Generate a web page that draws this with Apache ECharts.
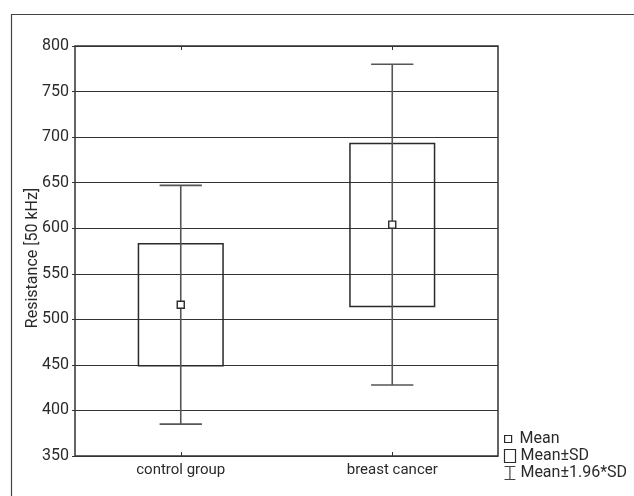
<!DOCTYPE html>
<html>
<head>
<meta charset="utf-8">
<script src="https://cdn.jsdelivr.net/npm/echarts@6/dist/echarts.min.js"></script>
<style>
  html, body { margin: 0; padding: 0; background: #fff; }
  #chart { width: 634px; height: 496px; }
</style>
</head>
<body>
<div id="chart"></div>
<script>
// values
const categories = ['control group', 'breast cancer'];
const means = [516, 604];
const sdLow = [449, 514];     // Mean - SD
const sdHigh = [583, 693];    // Mean + SD
const ciLow = [385, 428];     // Mean - 1.96*SD
const ciHigh = [647, 780];    // Mean + 1.96*SD
const yMin = 350;
const yMax = 800;
const yStep = 50;

const FONT = 'Roboto';
const INK = '#2a2a2a';

const chart = echarts.init(document.getElementById('chart'));

function renderBox(params, api) {
  // Mean±SD box, 40% of the category band
  const i = api.value(0);
  const lo = api.coord([i, api.value(1)]);
  const hi = api.coord([i, api.value(2)]);
  const w = api.size([1, 0])[0] * 0.4;
  return {
    type: 'rect',
    shape: { x: lo[0] - w / 2, y: hi[1], width: w, height: lo[1] - hi[1] },
    style: { fill: 'none', stroke: INK, lineWidth: 1.5 }
  };
}

function renderWhisker(params, api) {
  // Mean±1.96*SD whisker with caps
  const i = api.value(0);
  const lo = api.coord([i, api.value(1)]);
  const hi = api.coord([i, api.value(2)]);
  const cap = api.size([1, 0])[0] * 0.2;
  const style = { stroke: '#555', lineWidth: 1.6 };
  return {
    type: 'group',
    children: [
      { type: 'line', shape: { x1: lo[0], y1: lo[1], x2: hi[0], y2: hi[1] }, style },
      { type: 'line', shape: { x1: hi[0] - cap / 2, y1: hi[1], x2: hi[0] + cap / 2, y2: hi[1] }, style },
      { type: 'line', shape: { x1: lo[0] - cap / 2, y1: lo[1], x2: lo[0] + cap / 2, y2: lo[1] }, style }
    ]
  };
}

const legendText = { color: INK, fontSize: 16, fontFamily: FONT };

const option = {
  animation: false,
  textStyle: { fontFamily: FONT },
  graphic: [{
    type: 'rect',
    left: 9, top: 12,
    shape: { width: 700, height: 600 },
    style: { fill: 'none', stroke: '#444', lineWidth: 1.2 },
    silent: true
  }],
  grid: {
    left: 75, right: 136, top: 46, bottom: 40,
    show: true, borderColor: '#333', borderWidth: 1.5
  },
  legend: [
    {
      data: ['Mean'], selectedMode: false, orient: 'vertical',
      left: 504, top: 431, padding: 0,
      itemWidth: 7, itemHeight: 7, icon: 'rect',
      itemStyle: { color: '#fff', borderColor: INK, borderWidth: 1.2 },
      textStyle: Object.assign({ padding: [0, 0, 0, 3] }, legendText)
    },
    {
      data: ['Mean±SD'], selectedMode: false, orient: 'vertical',
      left: 502, top: 447, padding: 0,
      itemWidth: 11, itemHeight: 13, icon: 'rect',
      itemStyle: { color: 'none', borderColor: INK, borderWidth: 1.2 },
      textStyle: legendText
    },
    {
      data: ['Mean±1.96*SD'], selectedMode: false, orient: 'vertical',
      left: 502, top: 464, padding: 0,
      itemWidth: 11, itemHeight: 13, icon: 'path://M0,0H10M5,0V12M0,12H10',
      itemStyle: { color: 'none', borderColor: '#444', borderWidth: 1.2 },
      textStyle: legendText
    }
  ],
  xAxis: [
    {
      type: 'category',
      data: categories,
      position: 'bottom',
      axisLine: { show: false },
      axisTick: { show: true, inside: true, alignWithLabel: true, length: 4, lineStyle: { color: '#333' } },
      axisLabel: { color: INK, fontSize: 15, margin: 7 }
    },
    {
      type: 'category',
      data: categories,
      position: 'top',
      axisLine: { show: false },
      axisTick: { show: true, inside: true, alignWithLabel: true, length: 4, lineStyle: { color: '#333' } },
      axisLabel: { show: false }
    }
  ],
  yAxis: {
    type: 'value',
    min: yMin, max: yMax, interval: yStep,
    name: 'Resistance [50 kHz]',
    nameLocation: 'middle',
    nameGap: 34,
    nameMoveOverlap: false,
    nameTextStyle: { color: INK, fontSize: 16, padding: [0, 14, 0, 0] },
    axisLine: { show: false },
    axisTick: { show: true, length: 3, lineStyle: { color: '#333' } },
    axisLabel: { color: INK, fontSize: 16, margin: 6 },
    splitLine: { show: true, lineStyle: { color: '#333', width: 1 } }
  },
  series: [
    {
      name: 'Mean±SD',
      type: 'custom',
      renderItem: renderBox,
      encode: { x: 0, y: [1, 2] },
      itemStyle: { color: 'none', borderColor: INK },
      data: categories.map((c, i) => [i, sdLow[i], sdHigh[i]]),
      z: 3
    },
    {
      name: 'Mean±1.96*SD',
      type: 'custom',
      renderItem: renderWhisker,
      encode: { x: 0, y: [1, 2] },
      itemStyle: { color: 'none', borderColor: '#444' },
      data: categories.map((c, i) => [i, ciLow[i], ciHigh[i]]),
      z: 4
    },
    {
      name: 'Mean',
      type: 'scatter',
      symbol: 'rect',
      symbolSize: 7,
      itemStyle: { color: '#fff', borderColor: INK, borderWidth: 1.4, opacity: 1 },
      data: categories.map((c, i) => [i, means[i]]),
      z: 5
    }
  ]
};

chart.setOption(option);
</script>
</body>
</html>
